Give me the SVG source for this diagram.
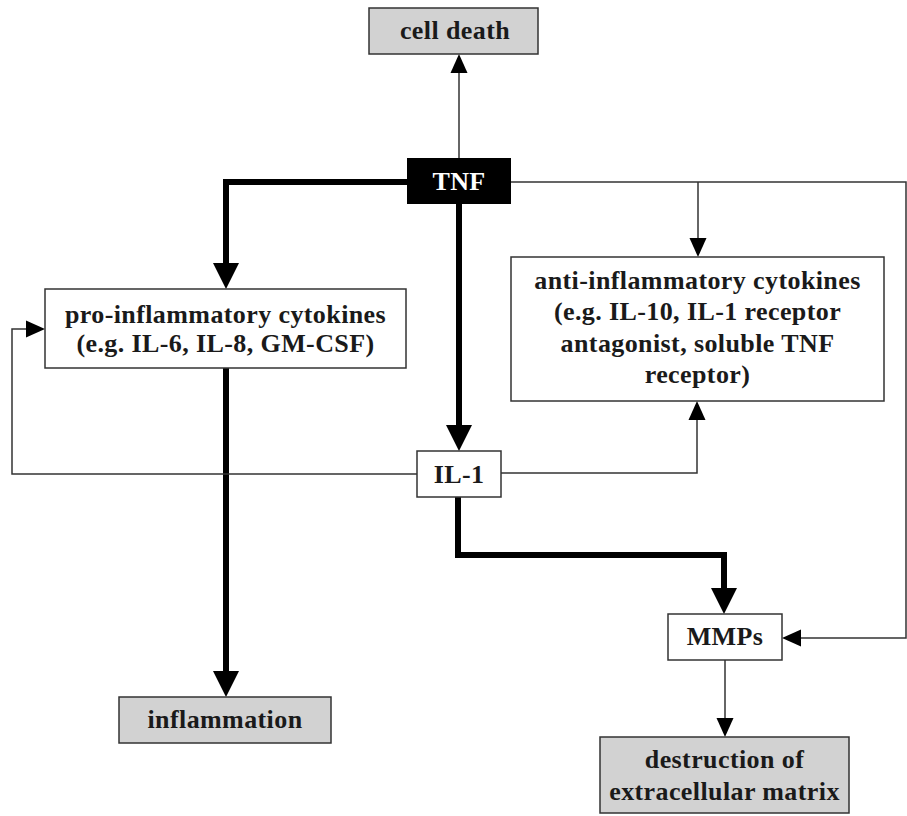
<svg xmlns="http://www.w3.org/2000/svg" width="907" height="816" viewBox="0 0 907 816">
<style>
text{font-family:"Liberation Serif","Times New Roman",serif;font-weight:bold;font-size:26px;letter-spacing:0.4px;text-anchor:middle;fill:#1a1a1a}
.box{fill:#fff;stroke:#333;stroke-width:1.5}
.gray{fill:#d2d2d2;stroke:#333;stroke-width:1.5}
.thin{fill:none;stroke:#333;stroke-width:1.5}
.thick{fill:none;stroke:#000;stroke-width:6;stroke-linejoin:miter}
</style>
<defs>
<marker id="ah" markerUnits="userSpaceOnUse" markerWidth="26" markerHeight="26" refX="0" refY="13" orient="auto" overflow="visible"><path d="M0,0 L26,13 L0,26 z" fill="#000"/></marker>
<marker id="at" markerUnits="userSpaceOnUse" markerWidth="19" markerHeight="17" refX="0" refY="8.5" orient="auto" overflow="visible"><path d="M0,0 L19,8.5 L0,17 z" fill="#000"/></marker>
</defs>
<rect width="907" height="816" fill="#fff"/>
<g id="connectors">
<path class="thin" d="M459,158 V73" marker-end="url(#at)"/>
<path class="thick" d="M407,182 H226 V263" marker-end="url(#ah)"/>
<path class="thick" d="M459,204 V425" marker-end="url(#ah)"/>
<path class="thin" d="M511,182 H906 V638 H801" marker-end="url(#at)"/>
<path class="thin" d="M698,182 V238" marker-end="url(#at)"/>
<path class="thick" d="M226,368 V671" marker-end="url(#ah)"/>
<path class="thin" d="M417,474 H12 V329 H26" marker-end="url(#at)"/>
<path class="thin" d="M501,473 H697 V420" marker-end="url(#at)"/>
<path class="thick" d="M458,497 V555 H724 V588" marker-end="url(#ah)"/>
<path class="thin" d="M725,660 V718" marker-end="url(#at)"/>
</g>
<g id="cell-death"><rect class="gray" x="369" y="8" width="169" height="46"/><text x="455" y="39">cell death</text></g>
<g id="tnf"><rect x="407" y="158" width="104" height="46" fill="#000"/><text x="459" y="190" style="fill:#fff">TNF</text></g>
<g id="pro"><rect class="box" x="45" y="289" width="361" height="79"/><text x="225.5" y="323">pro-inflammatory cytokines</text><text x="225.5" y="352">(e.g. IL-6, IL-8, GM-CSF)</text></g>
<g id="anti"><rect class="box" x="511" y="257" width="373" height="144"/><text x="697.5" y="289">anti-inflammatory cytokines</text><text x="697.5" y="320">(e.g. IL-10, IL-1 receptor</text><text x="697.5" y="352">antagonist, soluble TNF</text><text x="697.5" y="383">receptor)</text></g>
<g id="il1"><rect class="box" x="417" y="451" width="84" height="46"/><text x="459" y="483">IL-1</text></g>
<g id="mmps"><rect class="box" x="668" y="614" width="114" height="46"/><text x="725" y="645">MMPs</text></g>
<g id="inflammation"><rect class="gray" x="119" y="697" width="212" height="46"/><text x="225" y="728">inflammation</text></g>
<g id="destruction"><rect class="gray" x="600" y="737" width="249" height="76"/><text x="724.5" y="768">destruction of</text><text x="724.5" y="800">extracellular matrix</text></g>
</svg>
